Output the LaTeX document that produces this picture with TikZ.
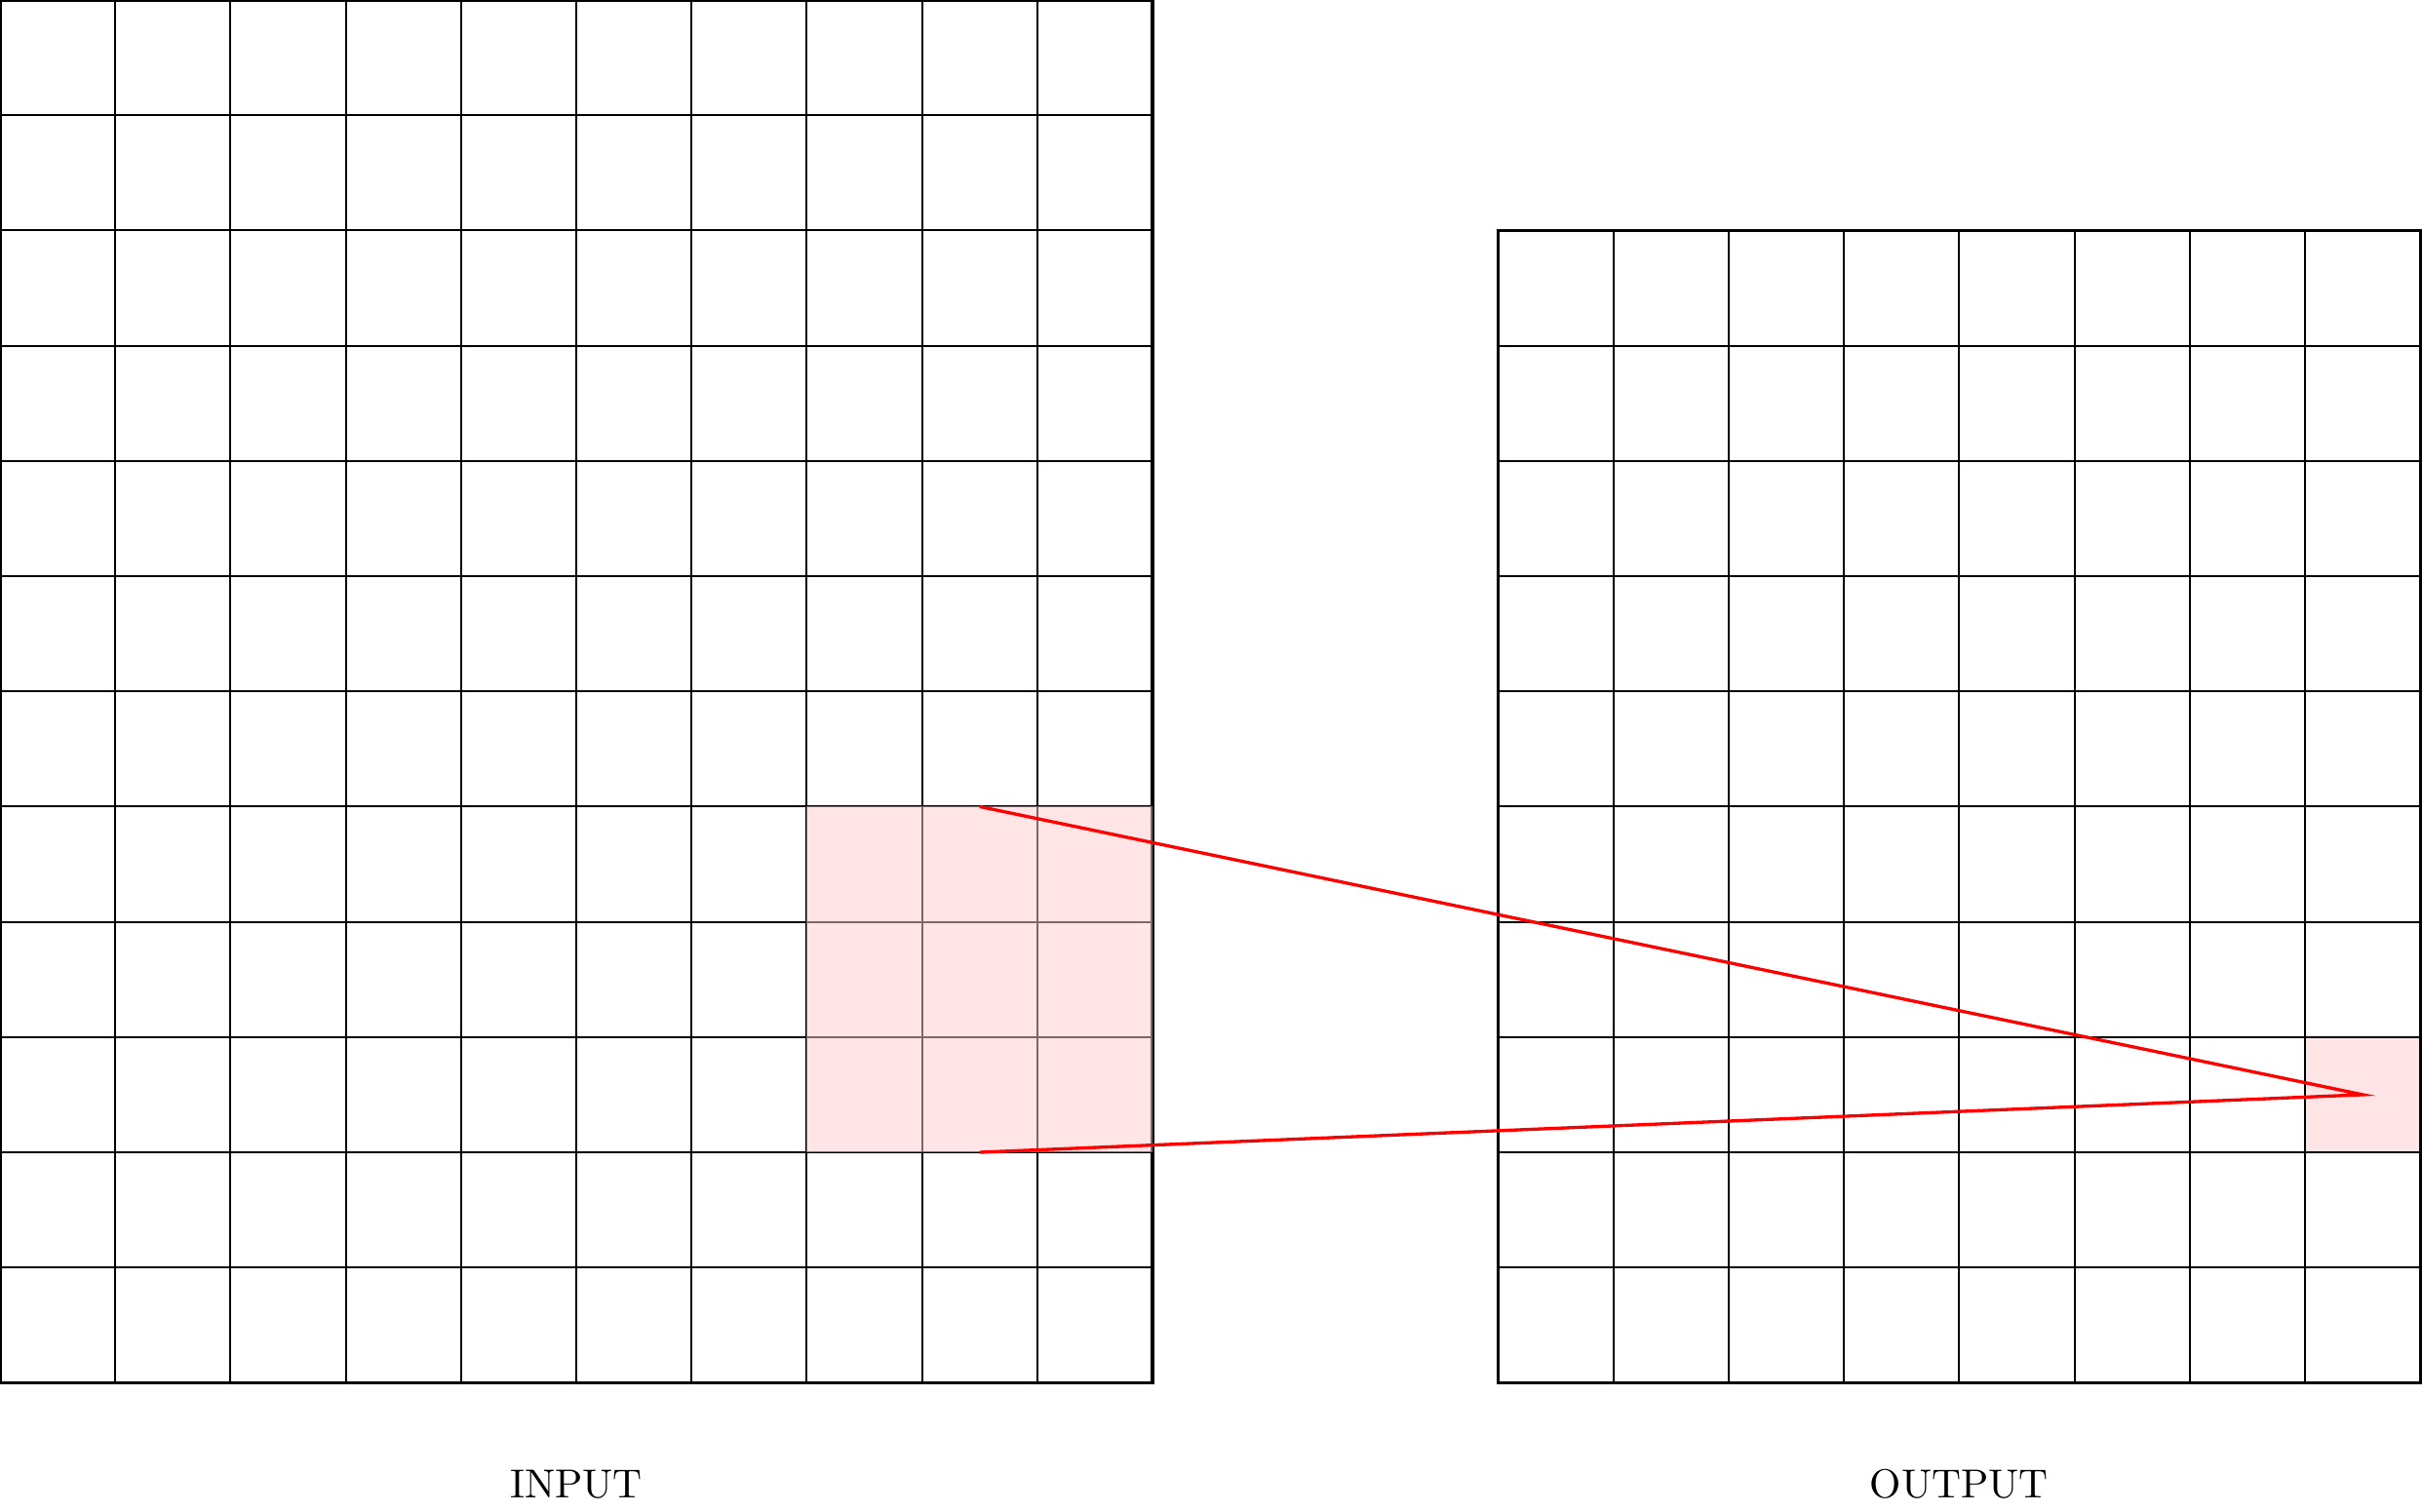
\documentclass[tikz,border=0pt]{standalone}
\usepackage{tikz}
\usetikzlibrary{positioning,calc}

\begin{document}
\begin{tikzpicture}[
    gridline/.style={draw=black, line width=0.5pt},
    frame/.style={draw=black, thick},
    patch/.style={fill=red!20, fill opacity=0.5},
    link/.style={red, thick}
]
    \useasboundingbox (0,-1.12) rectangle (21.015,12);

    \fill[patch] (20,2) rectangle (21,3);

    \draw[gridline] (0,0) grid (10,12);
    \draw[frame] (0,0) rectangle (10,12);
    \draw[gridline] (13,0) grid (21,10);
    \draw[frame] (13,0) rectangle (21,10);

    \fill[patch] (7,2) rectangle (10,5);

    \coordinate (top) at (8.5,5);
    \coordinate (bot) at (8.5,2);
    \coordinate (tip) at (20.5,2.5);
    \draw[link] (top) -- (tip) -- (bot);

    \node (input) at (5,-0.88) {INPUT};
    \node (output) at (17,-0.88) {OUTPUT};
\end{tikzpicture}
\end{document}
